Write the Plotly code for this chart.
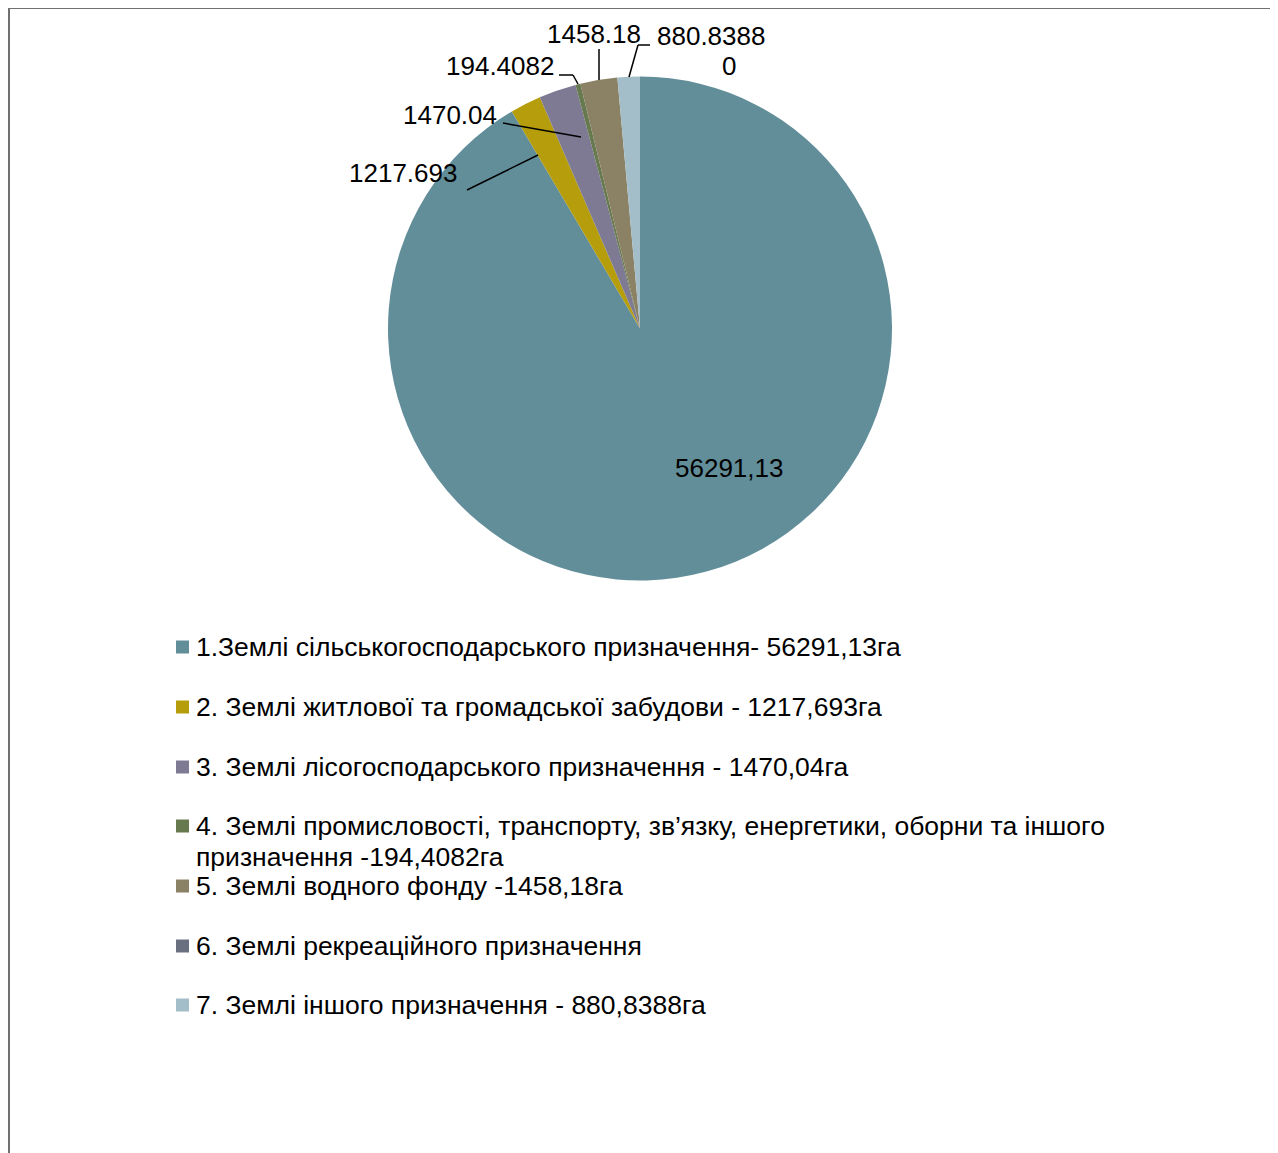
import plotly.graph_objects as go

# The page body has an 8px margin, so the figure is drawn at page offset (8, 8).
OFF = 8
PAGE_W, PAGE_H = 1278, 1153
W, H = PAGE_W - OFF, PAGE_H - OFF

categories = [
    "1.Землі сільськогосподарського призначення- 56291,13га",
    "2. Землі житлової та громадської забудови - 1217,693га",
    "3. Землі лісогосподарського призначення - 1470,04га",
    "4. Землі промисловості, транспорту, зв’язку, енергетики, оборни та іншого\nпризначення -194,4082га",
    "5. Землі водного фонду -1458,18га",
    "6. Землі рекреаційного призначення",
    "7. Землі іншого призначення - 880,8388га",
]
values = [56291.13, 1217.693, 1470.04, 194.4082, 1458.18, 0, 880.8388]
colors = ["#628E9A", "#B59D0B", "#7E7A94", "#67794F", "#8B8165", "#6B7080", "#A3BEC8"]

# label placement (page pixel coords) and leader lines for each slice
label_pos = [(729, 468), (403, 173), (450, 115), (500, 66), (594, 34), (729, 66), (711, 36)]
leaders = [
    None,
    [(467, 190), (538, 155)],
    [(503, 123), (581, 137)],
    [(559, 75), (573, 75), (578, 84)],
    [(599, 49), (599, 80)],
    None,
    [(650, 45), (638, 45), (629, 77)],
]
legend_rows = [647, 707, 767, 826, 886, 946, 1005]
LEGEND_TEXT_X = 194
LEGEND_BOX_X = (176, 189)
LEGEND_LINE_GAP = 31

FONT = "Liberation Sans, Arial, sans-serif"

def fmt(i, v):
    if i == 0:
        return str(v).replace(".", ",")
    return str(v)

CX, CY, R = 640, 328.5, 252

fig = go.Figure()
fig.add_trace(go.Pie(
    labels=[c.replace("\n", " ") for c in categories],
    values=values,
    marker=dict(colors=colors, line=dict(width=0)),
    sort=False,
    direction="clockwise",
    rotation=0,
    textinfo="none",
    hoverinfo="label+value",
    showlegend=False,
    domain=dict(x=[(CX - R - OFF) / W, (CX + R - OFF) / W],
                y=[1 - (CY + R - OFF) / H, 1 - (CY - R - OFF) / H]),
))

shapes = [dict(type="rect", xref="x", yref="y", x0=9, y0=8, x1=1273, y1=1170,
               line=dict(color="#707070", width=2), fillcolor="rgba(0,0,0,0)")]
for pts in leaders:
    if not pts:
        continue
    for (xa, ya), (xb, yb) in zip(pts[:-1], pts[1:]):
        shapes.append(dict(type="line", xref="x", yref="y", x0=xa, y0=ya, x1=xb, y1=yb,
                           line=dict(color="black", width=1.5)))

annotations = []
for i, v in enumerate(values):
    x, y = label_pos[i]
    annotations.append(dict(x=x, y=y, xref="x", yref="y", text=fmt(i, v), showarrow=False,
                            font=dict(family=FONT, size=26, color="black"),
                            xanchor="center", yanchor="middle"))

# manual legend
for i, (cat, yrow) in enumerate(zip(categories, legend_rows)):
    shapes.append(dict(type="rect", xref="x", yref="y",
                       x0=LEGEND_BOX_X[0], x1=LEGEND_BOX_X[1], y0=yrow - 6.5, y1=yrow + 6.5,
                       line=dict(width=0), fillcolor=colors[i]))
    for j, line in enumerate(cat.split("\n")):
        annotations.append(dict(x=LEGEND_TEXT_X, y=yrow + j * LEGEND_LINE_GAP, xref="x", yref="y",
                                text=line, showarrow=False,
                                font=dict(family=FONT, size=26.5, color="black"),
                                xanchor="left", yanchor="middle"))

fig.update_layout(
    width=W, height=H,
    margin=dict(l=0, r=0, t=0, b=0),
    paper_bgcolor="white", plot_bgcolor="rgba(0,0,0,0)",
    xaxis=dict(range=[OFF, PAGE_W], visible=False, fixedrange=True),
    yaxis=dict(range=[PAGE_H, OFF], visible=False, fixedrange=True),
    shapes=shapes,
    annotations=annotations,
    showlegend=False,
    font=dict(family=FONT),
)

fig.write_html("out.html")
